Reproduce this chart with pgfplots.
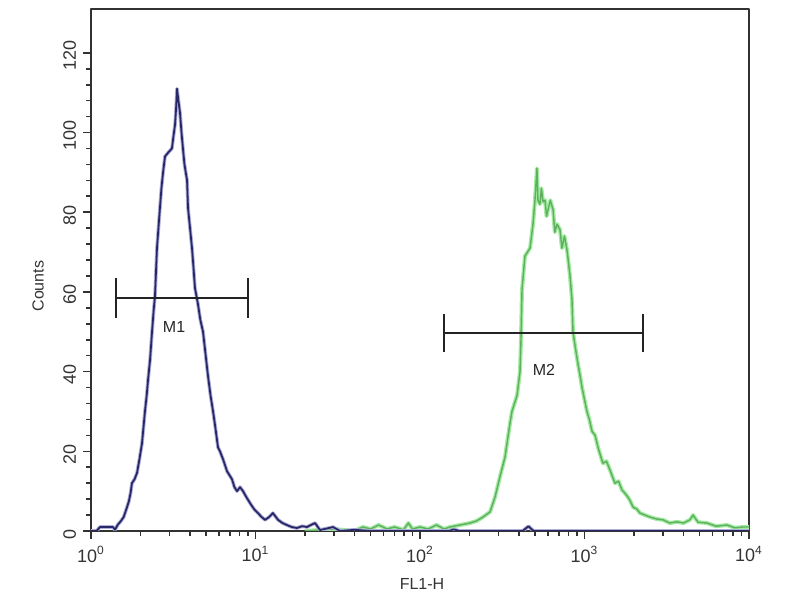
\documentclass[border=0pt]{standalone}
\usepackage{fontspec}
\setmainfont{Liberation Sans}
\usepackage{pgfplots}
\pgfplotsset{compat=1.18}
\definecolor{framecol}{RGB}{50,50,50}
\definecolor{bluecol}{RGB}{40,40,105}
\definecolor{bluehalo}{RGB}{175,175,215}
\definecolor{greencol}{RGB}{95,175,95}
\definecolor{greenhalo}{RGB}{160,235,160}
\definecolor{mcol}{RGB}{35,35,35}
\begin{document}
\begin{tikzpicture}
\useasboundingbox (-45.5pt,-34.5pt) rectangle (354.5pt,265.5pt);
\begin{axis}[
  at={(0,0)}, anchor=south west,
  width=329pt, height=261pt, scale only axis,
  xmode=log, xmin=1, xmax=10000, ymin=0, ymax=131,
  axis line style={framecol, line width=1.3pt},
  tick align=outside, xtick pos=bottom, ytick pos=left,
  xtick={1,10,100,1000,10000},
  xticklabels={10\textsuperscript{0},10\textsuperscript{1},10\textsuperscript{2},10\textsuperscript{3},10\textsuperscript{4}},
  minor xtick={2,3,4,5,6,7,8,9,20,30,40,50,60,70,80,90,200,300,400,500,600,700,800,900,2000,3000,4000,5000,6000,7000,8000,9000},
  ytick={0,20,40,60,80,100,120}, minor y tick num=4,
  major tick length=4pt, minor tick length=2.5pt,
  every tick/.style={framecol, line width=0.8pt},
  tick label style={font=\fontsize{9}{10}\selectfont, text=black!80},
  yticklabel style={rotate=90, anchor=south, xshift=-1.5pt},
  /pgf/number format/assume math mode=true,
  xlabel={FL1-H}, ylabel={Counts},
  label style={font=\fontsize{8}{10}\selectfont, text=black!80},
  xlabel style={at={(axis description cs:0.503,-0.1015)}, anchor=center},
  ylabel style={at={(axis description cs:-0.0805,0.469)}, anchor=center},
  line join=round,
]
% green histogram (halo + core)
\addplot[greenhalo, line width=2pt] coordinates {
(20,0) (30,0.5) (39.8,0) (45,1) (50.1,0.5) (56,1.5) (63.1,0.5) (70,1) (79.4,0.3) (85,2) (90,0.5) (100,1) (112,0.5) (125.9,1.5) (140,0.5) (152.1,1) (175,1.5) (201.4,2) (220,2.5) (241.5,3.5) (266.7,4.8) (285.8,8.5) (306.2,13.6) (328.9,18.6) (338.1,22) (352.4,27) (362.2,30) (389.0,34) (405.5,40) (411.1,48) (416.9,60.5) (434.5,69) (466.7,71) (486.4,77) (500.0,83) (514.0,91) (521.2,83) (535.8,82) (547,86) (559.8,82.6) (575.4,83) (588,79) (599.8,80.6) (620,83) (644.2,80.6) (660,75) (680.8,77) (709.6,75.6) (729.5,71) (755,74) (783.4,70.5) (816.6,64) (839.5,58) (851.1,50) (880,46) (912,42) (940,39) (966.1,36) (1035,30) (1070,28) (1112,25) (1160,24) (1208,21) (1250,19) (1294,17) (1360,17.5) (1429,15.3) (1531,12) (1610,12.5) (1690,10.3) (1760,9.5) (1837,8.5) (1900,7.5) (1972,6) (2080,5.5) (2173,4.5) (2330,4) (2500,3.5) (2750,3) (2999,2.8) (3300,2) (3648,2.3) (4000,2) (4375,2.8) (4571,4) (4900,2.2) (5559,2) (6300,1.2) (7345,1.5) (8200,0.8) (9204,1) (10000,1)
};
\addplot[greencol, line width=0.7pt] coordinates {
(20,0) (30,0.5) (39.8,0) (45,1) (50.1,0.5) (56,1.5) (63.1,0.5) (70,1) (79.4,0.3) (85,2) (90,0.5) (100,1) (112,0.5) (125.9,1.5) (140,0.5) (152.1,1) (175,1.5) (201.4,2) (220,2.5) (241.5,3.5) (266.7,4.8) (285.8,8.5) (306.2,13.6) (328.9,18.6) (338.1,22) (352.4,27) (362.2,30) (389.0,34) (405.5,40) (411.1,48) (416.9,60.5) (434.5,69) (466.7,71) (486.4,77) (500.0,83) (514.0,91) (521.2,83) (535.8,82) (547,86) (559.8,82.6) (575.4,83) (588,79) (599.8,80.6) (620,83) (644.2,80.6) (660,75) (680.8,77) (709.6,75.6) (729.5,71) (755,74) (783.4,70.5) (816.6,64) (839.5,58) (851.1,50) (880,46) (912,42) (940,39) (966.1,36) (1035,30) (1070,28) (1112,25) (1160,24) (1208,21) (1250,19) (1294,17) (1360,17.5) (1429,15.3) (1531,12) (1610,12.5) (1690,10.3) (1760,9.5) (1837,8.5) (1900,7.5) (1972,6) (2080,5.5) (2173,4.5) (2330,4) (2500,3.5) (2750,3) (2999,2.8) (3300,2) (3648,2.3) (4000,2) (4375,2.8) (4571,4) (4900,2.2) (5559,2) (6300,1.2) (7345,1.5) (8200,0.8) (9204,1) (10000,1)
};
% blue histogram (halo + core)
\addplot[bluehalo, line width=1.8pt] coordinates {
(1,0) (1.08,0) (1.135,1) (1.36,1) (1.40,0.3) (1.45,1.5) (1.52,2.5) (1.58,3.5) (1.656,6) (1.70,7.5) (1.74,9.5) (1.774,12) (1.84,13) (1.905,14.6) (1.97,18) (2.042,22) (2.128,30) (2.18,34) (2.223,38) (2.286,43) (2.35,50) (2.40,55) (2.449,59) (2.518,71) (2.57,76) (2.624,81) (2.68,86) (2.742,90) (2.818,94) (2.95,95) (3.105,96) (3.17,99) (3.243,102) (3.29,106) (3.334,111) (3.40,108) (3.475,105) (3.55,100) (3.622,96) (3.70,92) (3.837,88) (3.890,81) (4.0,76) (4.111,71) (4.20,66) (4.285,61) (4.467,57) (4.62,53) (4.797,50) (4.95,45) (5.140,39) (5.33,34) (5.521,30) (5.70,26) (5.916,21) (6.081,20) (6.35,18) (6.714,15) (6.95,14) (7.194,13) (7.45,11) (7.727,10) (8.05,11) (8.395,10) (8.8,8.5) (9.268,7) (9.8,5.5) (10.35,4.5) (10.9,3.5) (11.43,2.8) (12.1,3.5) (12.76,4.5) (13.71,2.8) (14.6,2) (15.52,1.5) (16.6,1) (17.86,0.75) (19.2,1.2) (20.56,1) (21.7,1.5) (23.01,2) (24.66,0.25) (27,0.6) (29.58,1) (32.66,0) (40,0.3) (50,0) (150,0) (160,0.4) (175,0) (420,0) (457,1.2) (490,0) (10000,0)
};
\addplot[bluecol, line width=0.9pt] coordinates {
(1,0) (1.08,0) (1.135,1) (1.36,1) (1.40,0.3) (1.45,1.5) (1.52,2.5) (1.58,3.5) (1.656,6) (1.70,7.5) (1.74,9.5) (1.774,12) (1.84,13) (1.905,14.6) (1.97,18) (2.042,22) (2.128,30) (2.18,34) (2.223,38) (2.286,43) (2.35,50) (2.40,55) (2.449,59) (2.518,71) (2.57,76) (2.624,81) (2.68,86) (2.742,90) (2.818,94) (2.95,95) (3.105,96) (3.17,99) (3.243,102) (3.29,106) (3.334,111) (3.40,108) (3.475,105) (3.55,100) (3.622,96) (3.70,92) (3.837,88) (3.890,81) (4.0,76) (4.111,71) (4.20,66) (4.285,61) (4.467,57) (4.62,53) (4.797,50) (4.95,45) (5.140,39) (5.33,34) (5.521,30) (5.70,26) (5.916,21) (6.081,20) (6.35,18) (6.714,15) (6.95,14) (7.194,13) (7.45,11) (7.727,10) (8.05,11) (8.395,10) (8.8,8.5) (9.268,7) (9.8,5.5) (10.35,4.5) (10.9,3.5) (11.43,2.8) (12.1,3.5) (12.76,4.5) (13.71,2.8) (14.6,2) (15.52,1.5) (16.6,1) (17.86,0.75) (19.2,1.2) (20.56,1) (21.7,1.5) (23.01,2) (24.66,0.25) (27,0.6) (29.58,1) (32.66,0) (40,0.3) (50,0) (150,0) (160,0.4) (175,0) (420,0) (457,1.2) (490,0) (10000,0)
};
% markers M1 and M2
\addplot[mcol, line width=1pt] coordinates {(1.42,58.5) (9.0,58.5)};
\addplot[mcol, line width=1pt] coordinates {(1.42,53.5) (1.42,63.5)};
\addplot[mcol, line width=1pt] coordinates {(9.0,53.5) (9.0,63.5)};
\addplot[mcol, line width=1pt] coordinates {(140,49.7) (2270,49.7)};
\addplot[mcol, line width=1pt] coordinates {(140,44.9) (140,54.5)};
\addplot[mcol, line width=1pt] coordinates {(2270,44.9) (2270,54.5)};
\node[font=\fontsize{8}{10}\selectfont, text=black!85] at (axis cs:3.2,51.2) {M1};
\node[font=\fontsize{8}{10}\selectfont, text=black!85] at (axis cs:567,40.4) {M2};
\end{axis}
\end{tikzpicture}
\end{document}
